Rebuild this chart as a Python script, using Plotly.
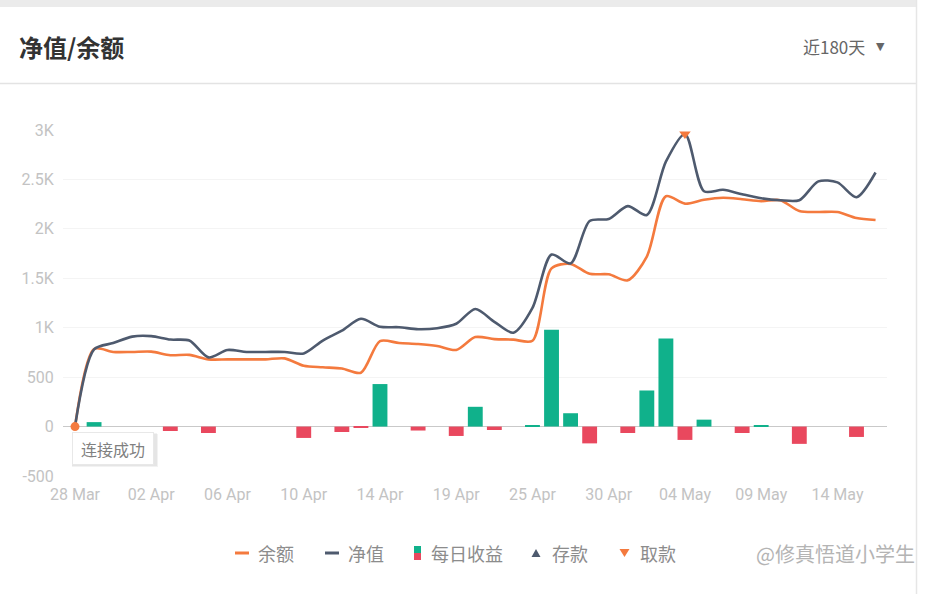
import plotly.graph_objects as go

# ---------------- data ----------------
dates = ["28 Mar", "29 Mar", "30 Mar", "01 Apr", "02 Apr", "03 Apr", "04 Apr", "05 Apr",
         "06 Apr", "07 Apr", "08 Apr", "09 Apr", "10 Apr", "11 Apr", "12 Apr", "13 Apr",
         "14 Apr", "15 Apr", "16 Apr", "18 Apr", "19 Apr", "20 Apr", "22 Apr", "24 Apr",
         "25 Apr", "26 Apr", "27 Apr", "29 Apr", "30 Apr", "01 May", "02 May", "03 May",
         "04 May", "05 May", "06 May", "08 May", "09 May", "10 May", "11 May", "13 May",
         "14 May", "15 May", "16 May"]

net_value = [0, 780, 845, 910, 915, 880, 870, 700, 775, 755, 755, 755, 740, 870, 970,
             1090, 1010, 1005, 985, 995, 1040, 1190, 1060, 950, 1200, 1740, 1650, 2080,
             2100, 2230, 2140, 2680, 2960, 2380, 2395, 2350, 2310, 2290, 2290, 2480,
             2470, 2320, 2570]

balance = [0, 785, 755, 755, 758, 722, 725, 680, 680, 680, 680, 690, 615, 600, 588,
           545, 865, 845, 835, 815, 775, 905, 885, 880, 868, 1600, 1645, 1545, 1540,
           1480, 1720, 2330, 2255, 2295, 2315, 2300, 2280, 2290, 2180, 2170, 2170, 2110,
           2090]

daily_profit = [0, 45, 0, 0, 0, -45, 0, -65, 0, 0, 0, 0, -115, 0, -55, -10, 430, 0,
                -40, 0, -95, 200, -35, 0, 15, 980, 135, -170, 0, -65, 365, 890, -135,
                70, 0, -65, 15, 0, -175, 0, 0, -105, 0]

deposit_dates = ["29 Mar", "04 Apr", "05 Apr", "06 Apr", "09 May"]
deposit_level = -525
withdraw_dates = ["04 May"]
withdraw_values = [2960]

tick_dates = dates[::4]
y_ticks = [-500, 0, 500, 1000, 1500, 2000, 2500, 3000]
y_tick_text = ["-500", "0", "500", "1K", "1.5K", "2K", "2.5K", "3K"]

# ---------------- styles ----------------
ORANGE = "#f47a3e"
SLATE = "#4e5a6e"
GREEN = "#10b18b"
RED = "#e9485e"
TICK = "#c3c3c3"
CJK = "Noto Sans CJK SC"

W, H = 930, 594
L, R, T, B = 63, 43, 130, 118
PW, PH = W - L - R, H - T - B


def px(x):
    return (x - L) / PW


def py(y):
    return (H - B - y) / PH


fig = go.Figure()

fig.add_trace(go.Bar(
    x=dates, y=daily_profit,
    marker=dict(color=[GREEN if v >= 0 else RED for v in daily_profit], line=dict(width=0)),
    width=0.78, showlegend=False, hoverinfo="x+y"))

fig.add_trace(go.Scatter(
    x=dates, y=balance, mode="lines",
    line=dict(color=ORANGE, width=2.6, shape="spline", smoothing=0.8),
    showlegend=False))

fig.add_trace(go.Scatter(
    x=dates, y=net_value, mode="lines",
    line=dict(color=SLATE, width=2.6, shape="spline", smoothing=0.8),
    showlegend=False))

fig.add_trace(go.Scatter(
    x=dates[:1], y=balance[:1], mode="markers",
    marker=dict(color=ORANGE, size=9, symbol="circle"),
    showlegend=False, cliponaxis=False))

fig.add_trace(go.Scatter(
    x=deposit_dates, y=[deposit_level] * len(deposit_dates), mode="markers",
    marker=dict(color=SLATE, size=10, symbol="triangle-up"),
    showlegend=False, cliponaxis=False))

fig.add_trace(go.Scatter(
    x=withdraw_dates, y=withdraw_values, mode="markers",
    marker=dict(color=ORANGE, size=10, symbol="triangle-down"),
    showlegend=False, cliponaxis=False))

shapes = [
    # top gray band
    dict(type="rect", xref="paper", yref="paper", x0=px(0), x1=px(916), y0=py(7), y1=py(0),
         fillcolor="#ebebeb", line=dict(width=0), layer="below"),
    # header separator
    dict(type="line", xref="paper", yref="paper", x0=px(0), x1=px(916), y0=py(83.5), y1=py(83.5),
         line=dict(color="#e3e3e3", width=1.5)),
    # right border
    dict(type="line", xref="paper", yref="paper", x0=px(916.5), x1=px(916.5), y0=py(594), y1=py(0),
         line=dict(color="#e6e6e6", width=1.5)),
    # soft shadow behind the "连接成功" label
    dict(type="rect", xref="paper", yref="paper", x0=px(72), x1=px(158), y0=py(467), y1=py(434),
         fillcolor="rgba(0,0,0,0.05)", line=dict(width=0), layer="above"),
    dict(type="rect", xref="paper", yref="paper", x0=px(72), x1=px(157), y0=py(466), y1=py(433),
         fillcolor="rgba(0,0,0,0.05)", line=dict(width=0), layer="above"),
    # legend: 余额
    dict(type="line", xref="paper", yref="paper", x0=px(235), x1=px(249), y0=py(553), y1=py(553),
         line=dict(color=ORANGE, width=3)),
    # legend: 净值
    dict(type="line", xref="paper", yref="paper", x0=px(325), x1=px(339), y0=py(553), y1=py(553),
         line=dict(color=SLATE, width=3)),
    # legend: 每日收益
    dict(type="rect", xref="paper", yref="paper", x0=px(414), x1=px(421), y0=py(553), y1=py(546),
         fillcolor=GREEN, line=dict(width=0)),
    dict(type="rect", xref="paper", yref="paper", x0=px(414), x1=px(421), y0=py(560), y1=py(553),
         fillcolor=RED, line=dict(width=0)),
    # legend: 存款 triangle
    dict(type="path", xref="paper", yref="paper",
         path=f"M {px(531.5)} {py(557)} L {px(540.5)} {py(557)} L {px(536)} {py(549)} Z",
         fillcolor=SLATE, line=dict(width=0)),
    # legend: 取款 triangle
    dict(type="path", xref="paper", yref="paper",
         path=f"M {px(619.5)} {py(549)} L {px(629.5)} {py(549)} L {px(624.5)} {py(557)} Z",
         fillcolor=ORANGE, line=dict(width=0)),
]

annotations = [
    dict(text="<b>净值/余额</b>", xref="paper", yref="paper", x=px(17), y=py(47),
         xanchor="left", yanchor="middle", showarrow=False,
         font=dict(family=CJK, size=24, color="#333333")),
    dict(text="近180天", xref="paper", yref="paper", x=px(867), y=py(47),
         xanchor="right", yanchor="middle", showarrow=False,
         font=dict(family=CJK, size=17, color="#666666")),
    dict(text="▼", xref="paper", yref="paper", x=px(880), y=py(46),
         xanchor="center", yanchor="middle", showarrow=False,
         font=dict(family="DejaVu Sans", size=11, color="#666666")),
    dict(text="连接成功", xref="paper", yref="paper", x=px(72), y=py(432),
         xanchor="left", yanchor="top", showarrow=False, width=72, height=23,
         bgcolor="#ffffff", bordercolor="#e8e8e8", borderwidth=1, borderpad=4,
         font=dict(family=CJK, size=16, color="#808080")),
    dict(text="@修真悟道小学生", xref="paper", yref="paper", x=px(754), y=py(553),
         xanchor="left", yanchor="middle", showarrow=False,
         font=dict(family=CJK, size=20, color="#b4b4b4")),
]

for label, x0 in [("余额", 256), ("净值", 346), ("每日收益", 429), ("存款", 550), ("取款", 638)]:
    annotations.append(dict(text=label, xref="paper", yref="paper", x=px(x0), y=py(553),
                            xanchor="left", yanchor="middle", showarrow=False,
                            font=dict(family=CJK, size=18, color="#8c8c8c")))

fig.update_layout(
    width=W, height=H,
    margin=dict(l=L, r=R, t=T, b=B, pad=0),
    paper_bgcolor="#ffffff", plot_bgcolor="#ffffff",
    bargap=0.2,
    shapes=shapes, annotations=annotations,
    xaxis=dict(type="category", categoryorder="array", categoryarray=dates,
               range=[-0.63, 42.6], tickmode="array", tickvals=tick_dates, ticktext=tick_dates,
               showgrid=False, zeroline=False, showline=False,
               ticks="outside", ticklen=4, tickcolor="rgba(0,0,0,0)",
               tickfont=dict(family="Roboto", size=16, color=TICK), fixedrange=True),
    yaxis=dict(range=[-500, 3000], tickmode="array", tickvals=y_ticks, ticktext=y_tick_text,
               showgrid=True, gridcolor="#f4f4f4", gridwidth=1,
               zeroline=True, zerolinecolor="#c9c9c9", zerolinewidth=1.2,
               showline=False, ticks="outside", ticklen=5, tickcolor="rgba(0,0,0,0)",
               tickfont=dict(family="Roboto", size=16, color=TICK), fixedrange=True),
    showlegend=False,
)

fig.write_html("out.html", config={"displayModeBar": False},
               post_script="document.body.style.margin='0';")
